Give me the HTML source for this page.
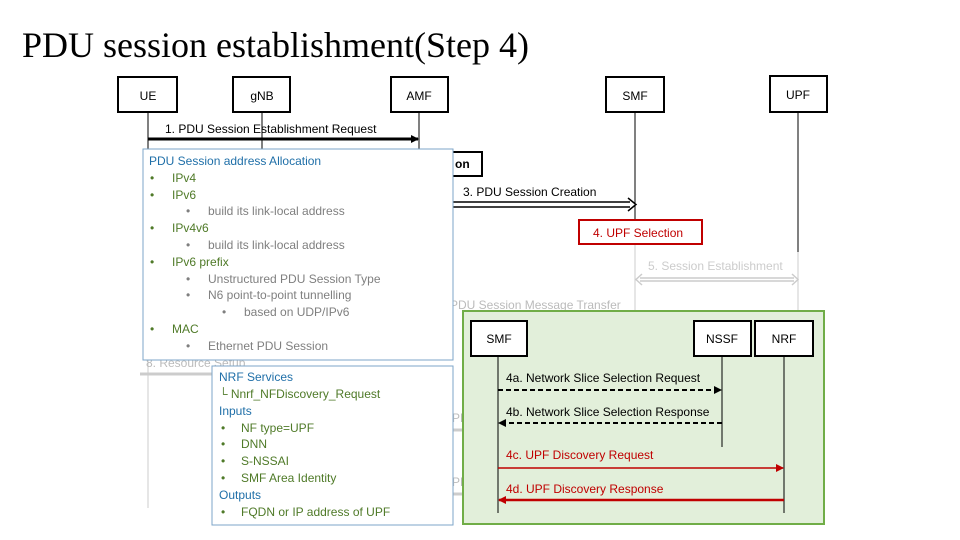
<!DOCTYPE html>
<html><head><meta charset="utf-8"><style>
html,body{margin:0;padding:0;background:#fff;width:960px;height:540px;overflow:hidden}
svg{display:block}
text{font-family:"Liberation Sans",sans-serif;font-size:12px}
</style></head><body>
<svg width="960" height="540" viewBox="0 0 960 540" xmlns="http://www.w3.org/2000/svg">
<defs>
<marker id="ab" markerWidth="8" markerHeight="8" refX="7" refY="4" orient="auto" markerUnits="userSpaceOnUse"><path d="M0,0 L8,4 L0,8z" fill="#000"/></marker>
<marker id="ar" markerWidth="8" markerHeight="8" refX="7" refY="4" orient="auto" markerUnits="userSpaceOnUse"><path d="M0,0 L8,4 L0,8z" fill="#c00000"/></marker>
</defs>
<text x="22" y="57" style="font-family:'Liberation Serif',serif;font-size:36px">PDU session establishment(Step 4)</text>

<g stroke="#000" stroke-width="1">
<line x1="148" y1="112" x2="148" y2="150"/>
<line x1="262" y1="112" x2="262" y2="150"/>
<line x1="419" y1="112" x2="419" y2="150"/>
<line x1="635" y1="112" x2="635" y2="244"/>
<line x1="798" y1="112" x2="798" y2="252"/>
</g>
<g stroke="#ccc" stroke-width="1">
<line x1="635" y1="244" x2="635" y2="312"/>
<line x1="798" y1="252" x2="798" y2="312"/>
<line x1="148" y1="360" x2="148" y2="508"/>
</g>
<g fill="#fff" stroke="#000" stroke-width="2">
<rect x="118" y="77" width="59" height="35"/>
<rect x="233" y="77" width="57" height="35"/>
<rect x="391" y="77" width="57" height="35"/>
<rect x="606" y="77" width="58" height="35"/>
<rect x="770" y="76" width="57" height="36"/>
</g>
<g text-anchor="middle">
<text x="148" y="100">UE</text><text x="262" y="100">gNB</text><text x="419" y="100">AMF</text><text x="635" y="100">SMF</text><text x="798" y="99">UPF</text>
</g>
<line x1="148" y1="139" x2="418" y2="139" stroke="#000" stroke-width="3" marker-end="url(#ab)"/>
<text x="165" y="133">1. PDU Session Establishment Request</text>

<rect x="430" y="152" width="52" height="24" fill="#fff" stroke="#000" stroke-width="2"/>
<text x="455" y="168" font-weight="bold">on</text>
<line x1="453" y1="202" x2="630" y2="202" stroke="#000" stroke-width="1.5"/>
<line x1="453" y1="207" x2="630" y2="207" stroke="#000" stroke-width="1.5"/>
<path d="M628,198 L636,204.5 L628,211" fill="none" stroke="#000" stroke-width="1.5"/>
<text x="463" y="196">3. PDU Session Creation</text>
<rect x="579" y="220" width="123" height="24" fill="#fff" stroke="#c00000" stroke-width="2"/>
<text x="593" y="237" fill="#c00000">4. UPF Selection</text>
<text x="648" y="270" fill="#ccc">5. Session Establishment</text>
<line x1="640" y1="278" x2="794" y2="278" stroke="#ccc" stroke-width="1.5"/>
<line x1="640" y1="281" x2="794" y2="281" stroke="#ccc" stroke-width="1.5"/>
<path d="M642,274 L636,279.5 L642,285 M792,274 L798,279.5 L792,285" fill="none" stroke="#ccc" stroke-width="1.5"/>
<text x="450" y="309" fill="#bbb">PDU Session Message Transfer</text>
<text x="146" y="367" fill="#bbb">8. Resource Setup</text>
<line x1="215" y1="374" x2="140" y2="374" stroke="#ccc" stroke-width="3"/>
<text x="452" y="422" fill="#bbb">PD</text>
<line x1="453" y1="430" x2="470" y2="430" stroke="#ccc" stroke-width="3"/>
<text x="452" y="486" fill="#bbb">PD</text>
<line x1="453" y1="494" x2="470" y2="494" stroke="#ccc" stroke-width="3"/>

<rect x="463" y="311" width="361" height="213" fill="#e2efda" stroke="#70ad47" stroke-width="2"/>
<g stroke="#000" stroke-width="1">
<line x1="498" y1="356" x2="498" y2="513"/>
<line x1="722" y1="356" x2="722" y2="447"/>
<line x1="784" y1="356" x2="784" y2="513"/>
</g>
<g fill="#fff" stroke="#000" stroke-width="2">
<rect x="471" y="321" width="56" height="35"/>
<rect x="694" y="321" width="57" height="35"/>
<rect x="755" y="321" width="58" height="35"/>
</g>
<g text-anchor="middle"><text x="499" y="343">SMF</text><text x="722" y="343">NSSF</text><text x="784" y="343">NRF</text></g>
<text x="506" y="382">4a. Network Slice Selection Request</text>
<line x1="498" y1="390" x2="721" y2="390" stroke="#000" stroke-width="2" stroke-dasharray="5,3" marker-end="url(#ab)"/>
<text x="506" y="416">4b. Network Slice Selection Response</text>
<line x1="722" y1="423" x2="499" y2="423" stroke="#000" stroke-width="2" stroke-dasharray="5,3" marker-end="url(#ab)"/>
<text x="506" y="459" fill="#c00000">4c. UPF Discovery Request</text>
<line x1="498" y1="468" x2="783" y2="468" stroke="#c00000" stroke-width="1.5" marker-end="url(#ar)"/>
<text x="506" y="493" fill="#c00000">4d. UPF Discovery Response</text>
<line x1="784" y1="500" x2="499" y2="500" stroke="#c00000" stroke-width="2.5" marker-end="url(#ar)"/>

<rect x="143" y="149" width="310" height="211" fill="#fff" stroke="#7ea6c8" stroke-width="1"/>
<g font-size="12">
<text x="149" y="165" fill="#1f6fa8">PDU Session address Allocation</text>
<g fill="#4f7a28">
<text x="150" y="182">•</text><text x="172" y="182">IPv4</text>
<text x="150" y="199">•</text><text x="172" y="199">IPv6</text>
<text x="150" y="232">•</text><text x="172" y="232">IPv4v6</text>
<text x="150" y="266">•</text><text x="172" y="266">IPv6 prefix</text>
<text x="150" y="333">•</text><text x="172" y="333">MAC</text>
</g>
<g fill="#7f7f7f">
<text x="186" y="215">•</text><text x="208" y="215">build its link-local address</text>
<text x="186" y="249">•</text><text x="208" y="249">build its link-local address</text>
<text x="186" y="283">•</text><text x="208" y="283">Unstructured PDU Session Type</text>
<text x="186" y="299">•</text><text x="208" y="299">N6 point-to-point tunnelling</text>
<text x="222" y="316">•</text><text x="244" y="316">based on UDP/IPv6</text>
<text x="186" y="350">•</text><text x="208" y="350">Ethernet PDU Session</text>
</g>
</g>
<rect x="212" y="366" width="241" height="159" fill="#fff" stroke="#7ea6c8" stroke-width="1"/>
<g font-size="12">
<text x="219" y="381" fill="#1f6fa8">NRF Services</text>
<text x="219" y="398" fill="#4f7a28">└ Nnrf_NFDiscovery_Request</text>
<text x="219" y="415" fill="#1f6fa8">Inputs</text>
<g fill="#4f7a28">
<text x="221" y="432">•</text><text x="241" y="432">NF type=UPF</text>
<text x="221" y="448">•</text><text x="241" y="448">DNN</text>
<text x="221" y="465">•</text><text x="241" y="465">S-NSSAI</text>
<text x="221" y="482">•</text><text x="241" y="482">SMF Area Identity</text>
<text x="221" y="516">•</text><text x="241" y="516">FQDN or IP address of UPF</text>
</g>
<text x="219" y="499" fill="#1f6fa8">Outputs</text>
</g>
</svg>
</body></html>
